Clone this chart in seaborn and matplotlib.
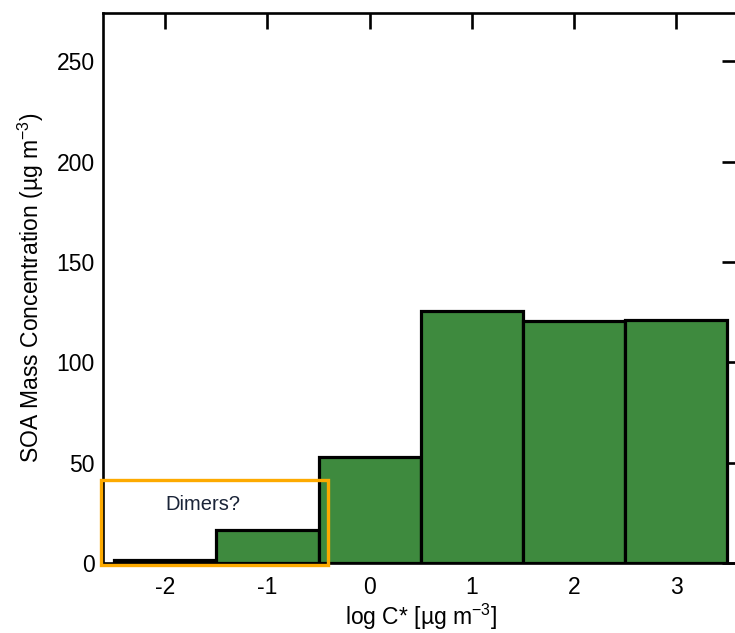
import matplotlib
matplotlib.use("Agg")
import matplotlib.pyplot as plt
from matplotlib.patches import Rectangle
import numpy as np
import seaborn as sns

sns.set_style("white")
plt.rcParams['font.family'] = ['Liberation Sans', 'DejaVu Sans']
plt.rcParams['mathtext.fontset'] = 'custom'
plt.rcParams['mathtext.rm'] = 'Liberation Sans'
plt.rcParams['mathtext.it'] = 'Liberation Sans:italic'
plt.rcParams['text.color'] = 'black'
plt.rcParams['axes.labelcolor'] = 'black'

# volatility bins (log C*) and SOA mass in each bin
log_cstar = [-2, -1, 0, 1, 2, 3]
soa_mass = [1.5, 16.5, 53, 125.5, 120.5, 121]
x_ticklabels = ['-2', '-1', '0', '1', '2', '3']
y_ticks = [0, 50, 100, 150, 200, 250]

green = '#3e8a3e'
orange = '#fdaa00'

fig = plt.figure(figsize=(7.35, 6.33), dpi=100)
ax = fig.add_axes([0.1405, 0.1105, 0.864, 0.8685])

sns.barplot(x=log_cstar, y=soa_mass, native_scale=True, width=1.0,
            color=green, saturation=1, edgecolor='black', linewidth=2.3, ax=ax)

ax.set_xlim(-2.607, 3.607)
ax.set_ylim(0, 274)
ax.set_xticks(log_cstar)
ax.set_xticklabels(x_ticklabels)
ax.set_yticks(y_ticks)

for s in ax.spines.values():
    s.set_linewidth(1.9)
    s.set_color('black')
ax.tick_params(direction='in', length=11.5, width=1.9, top=True, right=True,
               labelsize=16.5, colors='black')
ax.tick_params(axis='x', pad=9)
ax.tick_params(axis='y', pad=6)

ax.set_xlabel('log C* [µg m$^{-3}$]', fontsize=16.5, labelpad=2, color='black')
ax.set_ylabel('SOA Mass Concentration (µg m$^{-3}$)', fontsize=16.5,
              labelpad=8, color='black')

# "Dimers?" box
box = Rectangle((-2.632, -1.1), 2.224, 42.5, fill=False, edgecolor=orange,
                linewidth=2.4, clip_on=False, zorder=5)
ax.add_patch(box)
ax.text(-1.63, 29.0, 'Dimers?', fontsize=14.5, color='#1a2438',
        ha='center', va='center')

fig.savefig('out.png', dpi=100)
